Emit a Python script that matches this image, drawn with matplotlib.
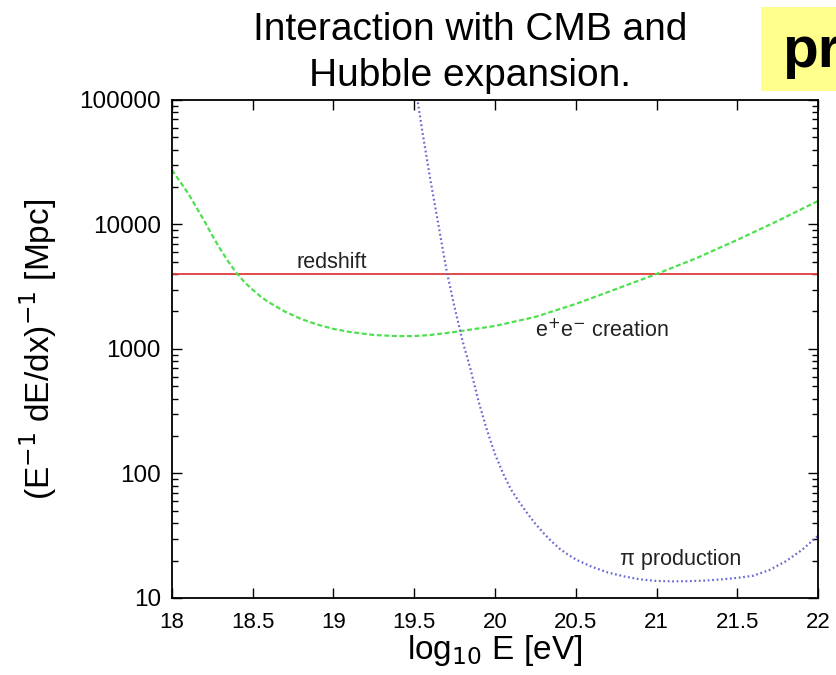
import numpy as np
import matplotlib.pyplot as plt
from matplotlib.patches import Rectangle
from matplotlib.ticker import LogLocator, FixedLocator, NullFormatter

# log10 E [eV] and energy-loss length [Mpc] for each process
E_pair = [18.0, 18.05, 18.1, 18.15, 18.2, 18.25, 18.3, 18.35, 18.4, 18.45, 18.5,
          18.55, 18.6, 18.7, 18.8, 18.9, 19.0, 19.1, 19.25, 19.4, 19.5, 19.6,
          19.75, 20.0, 20.25, 20.5, 20.75, 21.0, 21.25, 21.5, 21.75, 22.0]
L_pair = [27400, 22100, 17800, 13800, 10700, 8130, 6310, 5010, 4070, 3430, 2990,
          2630, 2370, 1995, 1740, 1570, 1450, 1370, 1295, 1268, 1270, 1295,
          1370, 1530, 1810, 2300, 3030, 4000, 5380, 7520, 10670, 15450]

E_pion = [19.45, 19.5, 19.55, 19.6, 19.65, 19.7, 19.75, 19.8, 19.85, 19.9, 19.95,
          20.0, 20.05, 20.1, 20.15, 20.2, 20.25, 20.3, 20.35, 20.4, 20.45, 20.5,
          20.6, 20.7, 20.8, 20.9, 21.0, 21.1, 21.2, 21.3, 21.4, 21.5, 21.6, 21.7,
          21.8, 21.9, 22.0]
L_pion = [350000, 148000, 56000, 22800, 9890, 4270, 2150, 1150, 676, 372, 224,
          143, 100, 74, 59, 47.9, 39.4, 33.3, 28.5, 24.9, 22.4, 20.4,
          17.8, 16.0, 14.9, 14.1, 13.7, 13.6, 13.65, 13.8, 14.1, 14.5, 15.1, 16.8,
          19.7, 24.3, 31.6]

L_redshift = 4000

xticks = [18, 18.5, 19, 19.5, 20, 20.5, 21, 21.5, 22]
xticklabels = ["18", "18.5", "19", "19.5", "20", "20.5", "21", "21.5", "22"]
yticks = [10, 100, 1000, 10000, 100000]
yticklabels = ["10", "100", "1000", "10000", "100000"]

plt.rcParams['font.family'] = ['Liberation Sans', 'DejaVu Sans']

fig = plt.figure(figsize=(8.36, 6.75), dpi=100)
ax = fig.add_axes([0.2057, 0.1141, 0.7728, 0.7378])

ax.axhline(L_redshift, color='#e03a3a', lw=1.3)
ax.plot(E_pair, L_pair, color='#4ee04e', lw=1.6, ls=(0, (2.2, 1.2)))
ax.plot(E_pion, L_pion, color='#6a6ad4', lw=1.6, ls=(0, (0.8, 1.2)))

ax.set_yscale('log')
ax.set_xlim(18, 22)
ax.set_ylim(10, 100000)

ax.xaxis.set_major_locator(FixedLocator(xticks))
ax.set_xticklabels(xticklabels)
ax.yaxis.set_major_locator(FixedLocator(yticks))
ax.set_yticklabels(yticklabels)
ax.yaxis.set_minor_locator(LogLocator(base=10, subs=np.arange(2, 10)))
ax.yaxis.set_minor_formatter(NullFormatter())

ax.tick_params(which='both', direction='in', top=True, right=True, width=1.0)
ax.tick_params(axis='x', pad=10, labelsize=16)
ax.tick_params(axis='y', pad=8, labelsize=17.5)
ax.tick_params(which='major', length=7)
ax.tick_params(which='minor', length=4)
for s in ax.spines.values():
    s.set_linewidth(1.3)

ax.text(18.99, 4450, "redshift", fontsize=15.5, ha='center', va='baseline', color='#222222')
ax.text(20.66, 1250, r"e$^{+}$e$^{-}$ creation", fontsize=15.5, ha='center',
        va='baseline', color='#222222')
ax.text(21.15, 18.4, "π production", fontsize=15.5, ha='center', va='baseline',
        color='#222222')

ax.set_xlabel(r"log$_{10}$ E [eV]", fontsize=24)
ax.xaxis.set_label_coords(0.5, -0.07)
ax.xaxis.label.set_va('top')
ax.set_ylabel(r"(E$^{-1}$ dE/dx)$^{-1}$ [Mpc]", fontsize=24)
ax.yaxis.set_label_coords(-0.175, 0.5)

fig.text(0.562, 0.955, "Interaction with CMB and", fontsize=28,
         ha='center', va='center')
fig.text(0.562, 0.888, "Hubble expansion.", fontsize=28,
         ha='center', va='center')

# highlighted word running off the right edge
fig.patches.append(Rectangle((0.9103, 0.8652), 0.1, 0.1244, transform=fig.transFigure,
                             facecolor='#ffff8c', edgecolor='none'))
fig.text(0.935, 0.9007, "pr", fontsize=42, fontweight='bold',
         ha='left', va='baseline')

fig.savefig("out.png", dpi=100)
